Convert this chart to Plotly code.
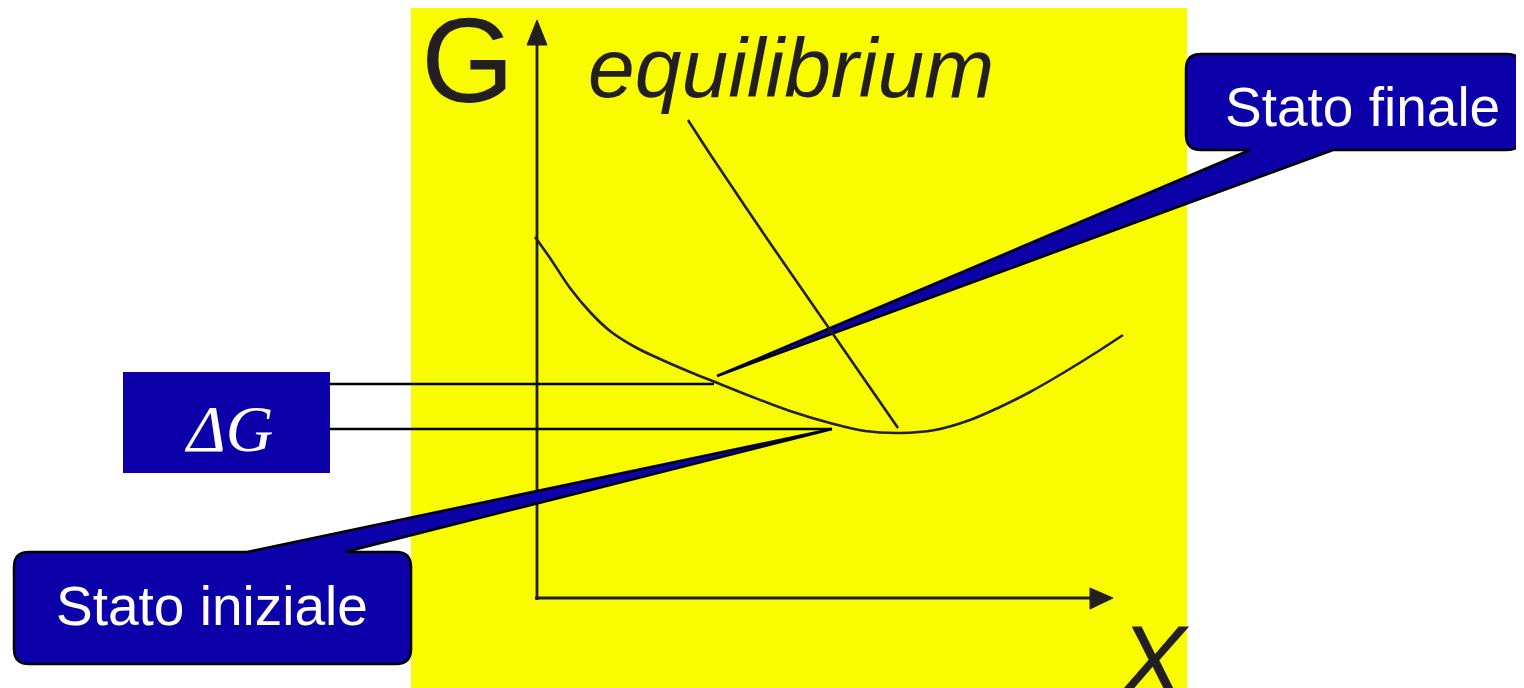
import plotly.graph_objects as go

# Gibbs energy curve G(X), pixel-space readings of the reference
curve_x = [535, 550, 570, 590, 610, 635, 660, 690, 720, 750, 790, 830, 865, 900, 935, 970, 1000, 1030, 1063, 1097, 1123]
curve_y = [237, 258, 288, 312, 331, 347, 359, 372, 384, 396, 411, 423, 431, 433, 430, 420, 407, 392, 373, 352, 335]

# "equilibrium" pointer line
eq_x = [688, 710, 770, 898]
eq_y = [120, 154, 243, 428]

# Delta G reference levels (start x, end x, y)
dg_start = [330, 330]
dg_end = [714, 832]
dg_level = [384, 429]

labels = ["Stato finale", "Stato iniziale"]

BLUE = "#0C00A8"
YELLOW = "#F9FB00"
INK = "#231F20"

fig = go.Figure()

fig.add_trace(go.Scatter(x=curve_x, y=curve_y, mode="lines",
                         line=dict(color=INK, width=2.6, shape="spline", smoothing=1.0), hoverinfo="skip"))
fig.add_trace(go.Scatter(x=eq_x, y=eq_y, mode="lines",
                         line=dict(color=INK, width=2.6, shape="spline", smoothing=0.8), hoverinfo="skip"))
for xs, xe, yv in zip(dg_start, dg_end, dg_level):
    fig.add_trace(go.Scatter(x=[xs, xe], y=[yv, yv], mode="lines",
                             line=dict(color="#000000", width=2.4), hoverinfo="skip"))

shapes = []
# yellow panel
shapes.append(dict(type="rect", x0=411, x1=1187, y0=8, y1=700, fillcolor=YELLOW,
                   line=dict(width=0), layer="below"))
# axes
shapes.append(dict(type="line", x0=537, x1=537, y0=600, y1=40, line=dict(color=INK, width=2.8), layer="below"))
shapes.append(dict(type="line", x0=535, x1=1095, y0=598, y1=598, line=dict(color=INK, width=2.8), layer="below"))
shapes.append(dict(type="path", path="M 537 20 L 547 45 L 527 45 Z", fillcolor=INK,
                   line=dict(color=INK, width=1), layer="below"))
shapes.append(dict(type="path", path="M 1113 598 L 1090 588 L 1090 609 Z", fillcolor=INK,
                   line=dict(color=INK, width=1), layer="below"))
# Delta G box
shapes.append(dict(type="rect", x0=123, x1=330, y0=372, y1=473, fillcolor=BLUE,
                   line=dict(width=0), layer="below"))


def callout_top_box(x1, x2, y1, y2, r, ta, tb, px, py):
    # tail on bottom edge
    return (f"M {x1+r} {y1} L {x2-r} {y1} Q {x2} {y1} {x2} {y1+r} L {x2} {y2-r} "
            f"Q {x2} {y2} {x2-r} {y2} L {tb} {y2} L {px} {py} L {ta} {y2} "
            f"L {x1+r} {y2} Q {x1} {y2} {x1} {y2-r} L {x1} {y1+r} Q {x1} {y1} {x1+r} {y1} Z")


def callout_bottom_box(x1, x2, y1, y2, r, ta, tb, px, py):
    # tail on top edge
    return (f"M {x1+r} {y1} L {ta} {y1} L {px} {py} L {tb} {y1} L {x2-r} {y1} "
            f"Q {x2} {y1} {x2} {y1+r} L {x2} {y2-r} Q {x2} {y2} {x2-r} {y2} "
            f"L {x1+r} {y2} Q {x1} {y2} {x1} {y2-r} L {x1} {y1+r} Q {x1} {y1} {x1+r} {y1} Z")


shapes.append(dict(type="path", path=callout_top_box(1186, 1522, 54, 150, 15, 1250, 1333, 717, 376),
                   fillcolor=BLUE, line=dict(color="#000000", width=2.5), layer="below"))
shapes.append(dict(type="path", path=callout_bottom_box(14, 411, 552, 664, 15, 247, 345, 832, 429),
                   fillcolor=BLUE, line=dict(color="#000000", width=2.5), layer="below"))

annotations = [
    dict(x=467, y=60, text="G", showarrow=False, xanchor="center", yanchor="middle",
         font=dict(family="Liberation Sans, Arial", size=120, color=INK)),
    dict(x=791, y=68, text="<i>equilibrium</i>", showarrow=False, xanchor="center", yanchor="middle",
         font=dict(family="Liberation Sans, Arial", size=84, color=INK)),
    dict(x=1153, y=662, text="<i>X</i>", showarrow=False, xanchor="center", yanchor="middle",
         font=dict(family="Liberation Sans, Arial", size=102, color=INK)),
    dict(x=228, y=428, text="<i>ΔG</i>", showarrow=False, xanchor="center", yanchor="middle",
         font=dict(family="Liberation Serif, Times New Roman", size=66, color="white")),
    dict(x=1362, y=107, text=labels[0], showarrow=False, xanchor="center", yanchor="middle",
         font=dict(family="Liberation Sans, Arial", size=55, color="white")),
    dict(x=212, y=606, text=labels[1], showarrow=False, xanchor="center", yanchor="middle",
         font=dict(family="Liberation Sans, Arial", size=55, color="white")),
]

# The page body has an 8px margin: map data units 1:1 onto page pixels.
fig.update_layout(
    width=1516, height=680,
    margin=dict(l=0, r=0, t=0, b=0),
    paper_bgcolor="white", plot_bgcolor="white",
    showlegend=False,
    xaxis=dict(range=[8, 1524], visible=False, fixedrange=True),
    yaxis=dict(range=[688, 8], visible=False, fixedrange=True),
    shapes=shapes,
    annotations=annotations,
)

fig.write_html("out.html", config={"displayModeBar": False})
